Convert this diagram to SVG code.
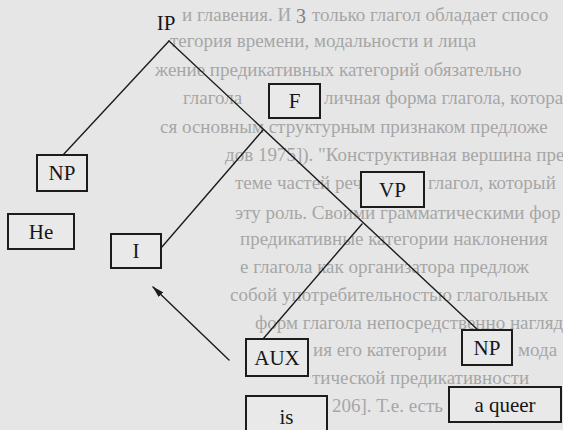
<svg xmlns="http://www.w3.org/2000/svg" width="563" height="430" viewBox="0 0 563 430">
<style>
  .bg { fill: #e6e6e6; }
  .ghost { font-family: "Liberation Serif", "DejaVu Serif", serif; font-size: 19px; fill: #a6a6a6; }
  .box { fill: #e9e9e9; stroke: #1c1c1c; stroke-width: 2; }
  .lbl { font-family: "Liberation Serif", "Times New Roman", serif; font-size: 21px; fill: #161616; text-anchor: middle; }
  .edge { stroke: #1c1c1c; stroke-width: 1.4; fill: none; stroke-linecap: round; }
</style>
<defs>
  <marker id="arr" viewBox="0 0 12 8" refX="11" refY="4" markerWidth="12" markerHeight="8" markerUnits="userSpaceOnUse" orient="auto">
    <path d="M0,0.8 L12,4 L0,7.2 Z" fill="#1c1c1c"/>
  </marker>
</defs>
<rect class="bg" x="0" y="0" width="563" height="430"/>
<g id="page-text">
  <text class="ghost" x="182" y="21">и главения. И</text>
  <text class="ghost" x="296" y="23" style="fill:#808080;font-size:20px">3</text>
  <text class="ghost" x="312" y="21">только глагол обладает спосо</text>
  <text class="ghost" x="170" y="47">тегория времени, модальности и лица</text>
  <text class="ghost" x="155" y="76">жение предикативных категорий обязательно</text>
  <text class="ghost" x="183" y="104">глагола</text>
  <text class="ghost" x="324" y="104">личная форма глагола, котора</text>
  <text class="ghost" x="160" y="133">ся основным структурным признаком предложе</text>
  <text class="ghost" x="225" y="161">дов 1975]). "Конструктивная вершина пре</text>
  <text class="ghost" x="235" y="189">теме частей речи</text>
  <text class="ghost" x="428" y="189">глагол, который</text>
  <text class="ghost" x="235" y="219">эту роль. Своими грамматическими фор</text>
  <text class="ghost" x="240" y="245">предикативные категории наклонения</text>
  <text class="ghost" x="240" y="273">е глагола как организатора предлож</text>
  <text class="ghost" x="230" y="301">собой употребительностью глагольных</text>
  <text class="ghost" x="255" y="329">форм глагола непосредственно нагляд</text>
  <text class="ghost" x="313" y="356">ия его категории</text>
  <text class="ghost" x="518" y="356">мода</text>
  <text class="ghost" x="312" y="384">тической предикативности</text>
  <text class="ghost" x="332" y="412">206]. Т.е. есть</text>
</g>
<g id="connectors">
  <line class="edge" x1="169" y1="41" x2="63" y2="155"/>
  <line class="edge" x1="169" y1="41" x2="478" y2="330"/>
  <line class="edge" x1="263" y1="130" x2="161" y2="248"/>
  <line class="edge" x1="362" y1="224" x2="263" y2="339"/>
  <line class="edge" x1="229" y1="360" x2="153" y2="287" marker-end="url(#arr)"/>
</g>
<g id="node-IP"><text class="lbl" x="166" y="30">IP</text></g>
<g id="node-F"><rect class="box" x="269" y="84" width="51" height="34"/><text class="lbl" x="294.5" y="108">F</text></g>
<g id="node-NP1"><rect class="box" x="37" y="155" width="50" height="36"/><text class="lbl" x="62" y="180">NP</text></g>
<g id="node-He"><rect class="box" x="8" y="214" width="66" height="35"/><text class="lbl" x="41" y="239">He</text></g>
<g id="node-I"><rect class="box" x="111" y="234" width="50" height="34"/><text class="lbl" x="136" y="258">I</text></g>
<g id="node-VP"><rect class="box" x="361" y="172" width="63" height="35"/><text class="lbl" x="392.5" y="197">VP</text></g>
<g id="node-AUX"><rect class="box" x="246" y="339" width="62" height="37"/><text class="lbl" x="277" y="365">AUX</text></g>
<g id="node-NP2"><rect class="box" x="462" y="330" width="50" height="35"/><text class="lbl" x="487" y="355">NP</text></g>
<g id="node-is"><rect class="box" x="246" y="396" width="81" height="40"/><text class="lbl" x="286.5" y="424">is</text></g>
<g id="node-aqueer"><rect class="box" x="449" y="387" width="112" height="35"/><text class="lbl" x="505" y="412">a queer</text></g>
</svg>
